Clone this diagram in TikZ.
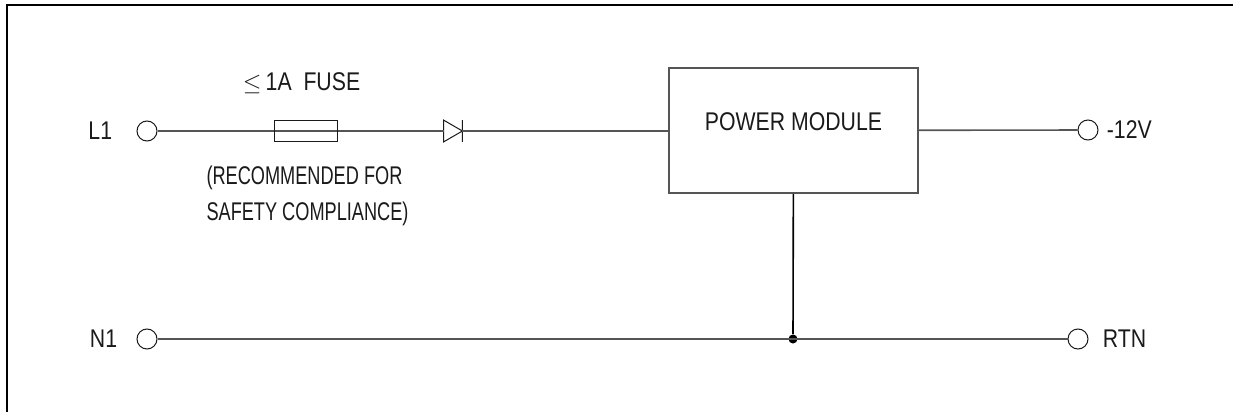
\documentclass[tikz,border=0pt]{standalone}
\usepackage{fontspec}
\setmainfont[FakeStretch=0.83]{Liberation Sans}
\newfontfamily\notefont[FakeStretch=0.71]{Liberation Sans}
\usetikzlibrary{arrows,shapes,positioning}

\begin{document}
\begin{tikzpicture}[x=0.5pt,y=-0.5pt,font=\fontsize{12.8}{14}\selectfont]

  \definecolor{wirec}{HTML}{555555} % grey wires
\definecolor{partc}{HTML}{1A1A1A} % near black parts

\tikzstyle{term}=[circle,draw=partc,fill=white,line width=0.5pt,
	minimum size=10pt,inner sep=0pt]

\tikzstyle{fusebox}=[rectangle,draw=partc,line width=0.5pt,
	minimum width=31.5pt,minimum height=10.5pt,inner sep=0pt]

\tikzstyle{diodesym}=[rectangle,minimum width=9pt,minimum height=10.5pt,inner sep=0pt]

\tikzstyle{module}=[rectangle,draw=wirec,line width=0.8pt,
	minimum width=124.5pt,minimum height=62.5pt]

\tikzstyle{txt}=[inner sep=0pt,text=partc]
\tikzstyle{dot}=[circle,fill=black,minimum size=4.5pt,inner sep=0pt]

\tikzstyle{wire}=[draw=wirec,line width=0.8pt]
\tikzstyle{tap}=[draw=black,line width=0.8pt]

  \useasboundingbox (0,0) rectangle (1233,412);
  \draw [line width=1pt] (7,412) -- (7,5) -- (1233,5);

  \node  (l1)   at (147,131)     [term] {};
  \node  (n1)   at (147,339)     [term] {};
  \node  (vout) at (1088,130)    [term] {};
  \node  (rtn)  at (1078,339)    [term] {};

  \node  (fuse) at (305.5,131)   [fusebox] {};
  \node  (d1)   at (453,131)     [diodesym] {};
  \node  (pm)   at (793.5,130.5) [module] {};
  \node  (jct)  at (793,339)     [dot] {};

  \node  (pmlbl)   at ([yshift=4.25pt]pm.center) [txt] {POWER MODULE};
  \node  (l1lbl)   [txt,left=12pt of l1]   {L1};
  \node  (n1lbl)   [txt,left=9.5pt of n1]  {N1};
  \node  (voutlbl) [txt,right=4pt of vout] {-12V};
  \node  (rtnlbl)  [txt,right=7pt of rtn]  {RTN};

  \node  (fuselbl) [txt,above=13pt of fuse,xshift=-2pt] {$\leq$\,1A\ \ FUSE};
  \node  (note)    [txt,below=12pt of fuse,xshift=1pt,align=left,
                    font=\notefont\fontsize{12.8}{18}\selectfont]
         {(RECOMMENDED FOR\\SAFETY COMPLIANCE)};

  \draw [partc,line width=0.5pt]
        (d1.north west) -- (d1.east) -- (d1.south west) -- cycle
        (d1.north east) -- (d1.south east);

  \path (l1)   edge [wire] (d1.west)
        (d1.east) edge [wire] (d1.east -| pm.west)
        (pm)   edge [wire] (vout)
        (n1)   edge [wire] (rtn)
        (pm)   edge [tap]  (jct);

  \node at (fuse) [fusebox] {};

\end{tikzpicture}
\end{document}
